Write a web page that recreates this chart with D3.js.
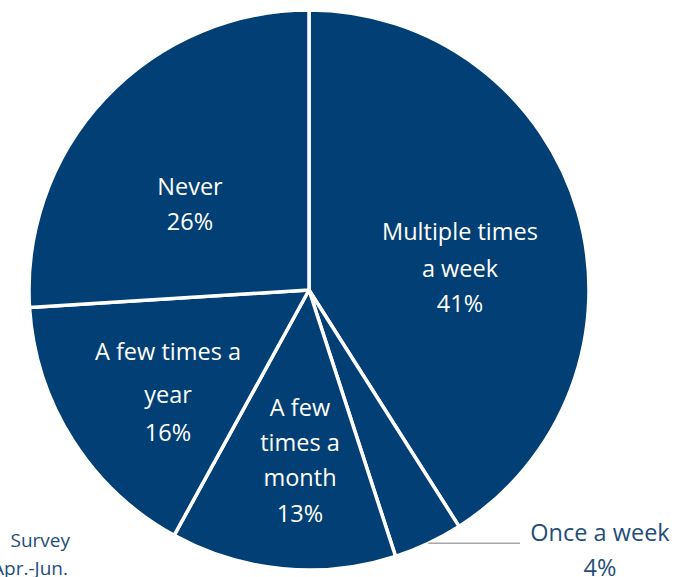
<!DOCTYPE html>
<html>
<head>
<meta charset="utf-8">
<script src="https://cdn.jsdelivr.net/npm/d3@7"></script>
<style>
  body { margin: 0; background: #fff; }
  svg { display: block; }
</style>
</head>
<body>
<svg id="chart"></svg>
<script>
const categories = ["Multiple times a week", "Once a week", "A few times a month", "A few times a year", "Never"];
const shares = [41, 4, 13, 16, 26];
const labelLines = [
  ["Multiple times", "a week", "41%"],
  ["Once a week", "4%"],
  ["A few", "times a", "month", "13%"],
  ["A few times a", "year", "16%"],
  ["Never", "26%"]
];

const width = 692, height = 577;
const cx = 309, cy = 290, radius = 280;

const svg = d3.select("#chart").attr("width", width).attr("height", height);

const pie = d3.pie().sort(null).value(d => d.value);
const arc = d3.arc().innerRadius(0).outerRadius(radius);
const data = pie(categories.map((c, i) => ({ name: c, value: shares[i], lines: labelLines[i] })));

const g = svg.append("g").attr("transform", `translate(${cx},${cy})`);

g.selectAll("path")
  .data(data)
  .enter()
  .append("path")
  .attr("d", arc)
  .attr("fill", "#023f74")
  .attr("stroke", "#fff")
  .attr("stroke-width", 3.5)
  .attr("stroke-linejoin", "round");

// label baselines (offset from centre) and line spacing
const labelPos = [
  { x: 151, y: -50, dy: [0, 37, 72] },
  { x: 291, y: 251, dy: [0, 35] },
  { x: -9, y: 126, dy: [0, 35, 70, 106] },
  { x: -141, y: 70, dy: [0, 43, 81] },
  { x: -119, y: -95, dy: [0, 35] }
];

data.forEach((d, i) => {
  const p = labelPos[i];
  const inside = i !== 1;
  const t = g.append("text")
    .attr("text-anchor", "middle")
    .style("font-family", "'Open Sans', sans-serif")
    .style("font-size", "23.5px")
    .attr("fill", inside ? "#fff" : "#1f4e79");
  d.data.lines.forEach((line, j) => {
    t.append("tspan")
      .attr("x", p.x)
      .attr("y", p.y + p.dy[j])
      .text(line);
  });
});

// leader line for the small slice
const mid = (data[1].startAngle + data[1].endAngle) / 2;
const edge = d3.pointRadial(mid, radius);
g.append("line")
  .attr("x1", edge[0]).attr("y1", edge[1])
  .attr("x2", 211).attr("y2", edge[1])
  .attr("stroke", "#a6a6a6")
  .attr("stroke-width", 1.5);

// cut-off source note
const note = svg.append("text")
  .attr("text-anchor", "end")
  .style("font-family", "'Open Sans', sans-serif")
  .style("font-size", "19px")
  .attr("fill", "#1f4e79");
note.append("tspan").attr("x", 70).attr("y", 547).text("Survey");
note.append("tspan").attr("x", 68).attr("y", 575).text("Apr.-Jun.");
</script>
</body>
</html>
